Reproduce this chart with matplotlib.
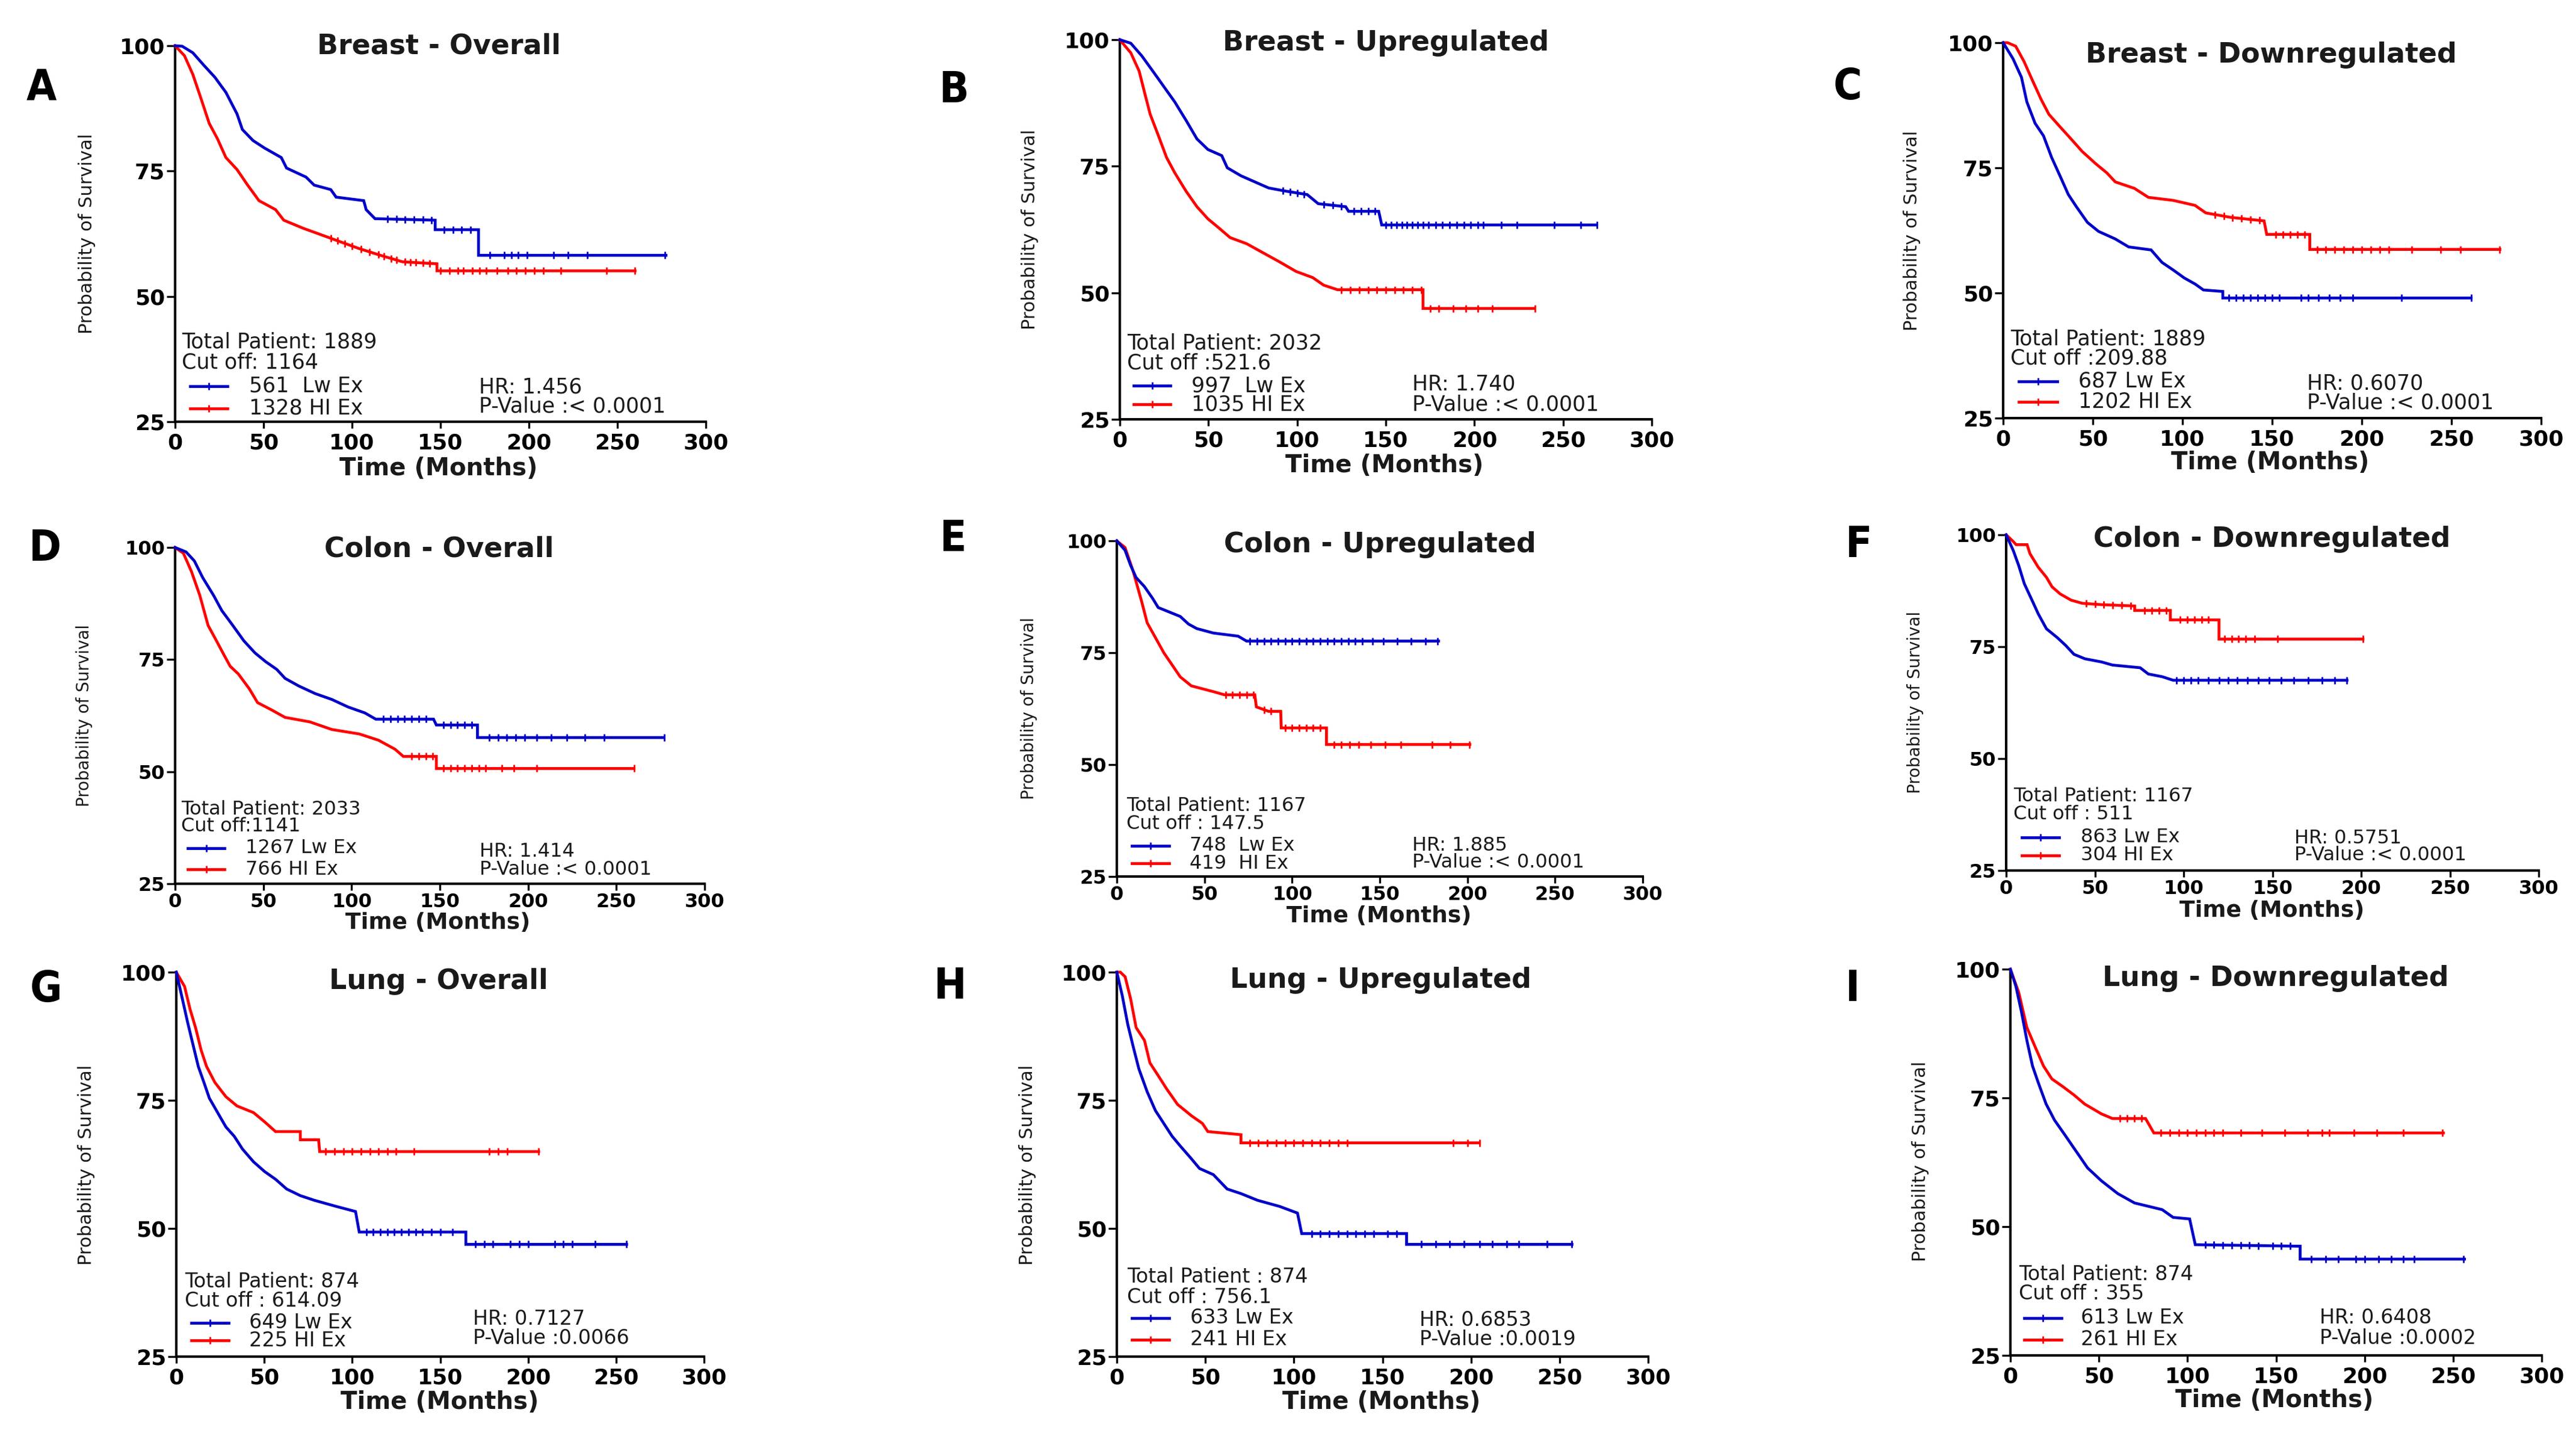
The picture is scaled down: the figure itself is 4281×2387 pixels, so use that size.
import numpy as np
import matplotlib
matplotlib.use("Agg")
import matplotlib.pyplot as plt

plt.rcParams['font.family'] = ['DejaVu Sans']

W, H = 4281, 2387
BLUE = "#0000C8"
RED = "#FF0000"
TXT = "#1a1a1a"

# ---------------- data ----------------
x_ticks = [0, 50, 100, 150, 200, 250, 300]
y_ticks = [25, 50, 75, 100]

# A  Breast - Overall
a_low_t = [0, 4, 10, 16, 22.5, 28.7, 35, 38, 44, 50.5, 60, 63, 74, 78.6, 88, 91, 106.6, 108, 113, 147, 147, 171.5, 171.5, 277.5]
a_low_s = [100, 99.9, 98.6, 96.2, 93.7, 90.7, 86.4, 83.3, 81.1, 79.6, 77.7, 75.6, 73.8, 72.2, 71.3, 69.8, 69.1, 67.3, 65.5, 65.2, 63.3, 63.3, 58.2, 58.2]
a_low_c = [120, 125, 130, 135, 140, 145, 152, 157, 162, 167, 178, 186, 190, 194, 199, 214, 222, 233, 277]
a_high_t = [0, 5.3, 10, 14.7, 19.3, 24, 28.7, 35, 41, 47.4, 56.8, 61.4, 72.3, 81.7, 91, 103.5, 116, 128.5, 148, 148, 260]
a_high_s = [100, 98, 94.3, 89.4, 84.5, 81.4, 77.7, 75.3, 72.2, 69.1, 67.3, 65.2, 63.6, 62.4, 61.2, 59.6, 58.2, 56.9, 56.5, 55.1, 55.1]
a_high_c = [88, 92, 96, 100, 105, 110, 115, 118, 122, 125, 130, 133, 136, 140, 144, 150, 155, 160, 163, 168, 172, 176, 182, 188, 193, 198, 203, 208, 218, 244, 260]
a_info = ["Total Patient: 1889", "Cut off: 1164", "561  Lw Ex", "1328 HI Ex", "HR: 1.456", "P-Value :< 0.0001"]

# B  Breast - Upregulated
b_low_t = [0, 6.2, 12.4, 18.6, 24.9, 31, 37.3, 43.5, 49.7, 57.5, 60.6, 68.4, 76.2, 84, 93.3, 105.7, 111.9, 127.4, 129, 146, 147.7, 269]
b_low_s = [100, 99.3, 96.8, 93.8, 90.7, 87.7, 84.1, 80.4, 78.3, 77.1, 74.7, 73.1, 71.9, 70.7, 70.1, 69.4, 67.6, 67.0, 66.1, 66.1, 63.4, 63.4]
b_low_c = [92, 96, 100, 104, 115, 120, 125, 132, 136, 140, 144, 150, 153, 156, 159, 162, 165, 168, 171, 174, 178, 182, 186, 190, 194, 198, 202, 205, 215, 224, 245, 260, 269]
b_high_t = [0, 6.2, 10.9, 14, 17.1, 21.8, 26.4, 31, 37.3, 43.5, 49.7, 55.9, 62.2, 71.5, 80.8, 90.1, 99.5, 108.8, 115, 122.8, 171, 171, 233.8]
b_high_s = [100, 97.4, 93.8, 89.5, 85.3, 81, 76.7, 73.7, 70.1, 67, 64.6, 62.8, 60.9, 59.7, 57.9, 56.1, 54.2, 53, 51.5, 50.6, 50.6, 46.9, 46.9]
b_high_c = [125, 130, 135, 140, 145, 150, 155, 160, 165, 170, 175, 180, 188, 195, 202, 210, 234]
b_info = ["Total Patient: 2032", "Cut off :521.6", "997  Lw Ex", "1035 HI Ex", "HR: 1.740", "P-Value :< 0.0001"]

# C  Breast - Downregulated
c_low_t = [0, 5.5, 10.2, 13.2, 17.8, 22.5, 27, 31.7, 36.3, 40.9, 47, 53.2, 62.5, 70, 82.5, 88.6, 94.8, 101, 107, 111.7, 122.5, 122.5, 261]
c_low_s = [100, 96.8, 93.1, 88.2, 83.9, 81.4, 77.1, 73.4, 69.7, 67.2, 64.1, 62.3, 60.8, 59.2, 58.6, 56.1, 54.6, 53, 51.8, 50.6, 50.3, 49, 49]
c_low_c = [126, 130, 134, 138, 142, 146, 150, 154, 166, 170, 176, 182, 188, 195, 222, 261]
c_high_t = [0, 2.5, 7, 11.7, 16.3, 21, 25.5, 31.7, 37.8, 44, 51.7, 57.8, 62.5, 73.2, 81, 94.8, 107, 113, 127, 145.5, 147, 171, 171, 277]
c_high_s = [100, 100, 99.3, 96.2, 92.5, 88.8, 85.7, 83.2, 80.8, 78.3, 75.8, 74, 72.2, 70.9, 69.1, 68.5, 67.5, 66, 65.1, 64.4, 61.7, 61.7, 58.7, 58.7]
c_high_c = [118, 123, 128, 133, 138, 143, 152, 156, 160, 164, 168, 175, 180, 185, 190, 195, 200, 205, 210, 215, 228, 244, 255, 277]
c_info = ["Total Patient: 1889", "Cut off :209.88", "687 Lw Ex", "1202 HI Ex", "HR: 0.6070", "P-Value :< 0.0001"]

# D  Colon - Overall
d_low_t = [0, 6.2, 10.9, 15.6, 21.8, 26.5, 32.7, 38.9, 45.2, 51.4, 57.6, 62.3, 70.1, 79.4, 88.8, 98.1, 107.5, 113.7, 146.4, 148, 171.3, 171.3, 277]
d_low_s = [100, 99, 97, 93.3, 89.3, 85.9, 82.6, 79.2, 76.5, 74.5, 72.8, 70.8, 69.1, 67.4, 66.1, 64.4, 63.1, 61.7, 61.7, 60.4, 60.4, 57.6, 57.6]
d_low_c = [118, 122, 126, 130, 134, 138, 142, 152, 156, 160, 164, 168, 178, 183, 188, 193, 198, 205, 213, 222, 232, 243, 277]
d_high_t = [0, 4.7, 9.3, 14, 18.7, 23.4, 28, 31.2, 35.8, 42, 46.7, 54.5, 62.3, 76.3, 88.8, 104.4, 115.3, 124.6, 129.3, 148, 148, 260]
d_high_s = [100, 98.7, 94.6, 89.3, 82.6, 79.2, 75.8, 73.5, 71.8, 68.5, 65.4, 63.8, 62.1, 61.1, 59.4, 58.4, 57, 55, 53.4, 53.4, 50.7, 50.7]
d_high_c = [134, 138, 142, 146, 152, 156, 160, 164, 168, 172, 176, 185, 192, 205, 260]
d_info = ["Total Patient: 2033", "Cut off:1141", "1267 Lw Ex", "766 HI Ex", "HR: 1.414", "P-Value :< 0.0001"]

# E  Colon - Upregulated
e_low_t = [0, 4.7, 7.9, 11, 15.7, 20.5, 23.6, 29.9, 36.2, 40.9, 45.6, 55.1, 69.2, 74, 183.5]
e_low_s = [100, 97.9, 94.5, 91.8, 89.8, 87.1, 85.1, 84.1, 83.1, 81.4, 80.4, 79.4, 78.7, 77.6, 77.6]
e_low_c = [76, 80, 84, 88, 92, 96, 100, 104, 108, 112, 116, 120, 124, 128, 132, 136, 140, 146, 152, 160, 168, 176, 183]
e_high_t = [0, 4.7, 9.4, 14.2, 17.3, 22, 26.8, 31.5, 36.2, 42.5, 55.1, 61.4, 78.7, 79.6, 86.6, 93.5, 93.8, 119.6, 119.6, 201.4]
e_high_s = [100, 98.5, 93.1, 86.4, 81.7, 78.4, 75, 72.3, 69.6, 67.6, 66.3, 65.6, 65.6, 62.9, 61.9, 61.9, 58.2, 58.2, 54.5, 54.5]
e_high_c = [62, 66, 70, 74, 78, 84, 88, 96, 100, 104, 108, 112, 116, 124, 128, 133, 138, 145, 153, 162, 180, 190, 201]
e_info = ["Total Patient: 1167", "Cut off : 147.5", "748  Lw Ex", "419  HI Ex", "HR: 1.885", "P-Value :< 0.0001"]

# F  Colon - Downregulated
f_low_t = [0, 4, 7.1, 10.2, 14.9, 18, 22.7, 28.9, 33.5, 38.2, 44.4, 53.7, 59.9, 75.5, 80.1, 87.9, 94.1, 192]
f_low_s = [100, 96.5, 93.1, 89.1, 85.1, 82.4, 79, 77, 75.3, 73.3, 72.3, 71.6, 70.9, 70.3, 68.9, 68.3, 67.5, 67.5]
f_low_c = [96, 100, 104, 108, 114, 120, 125, 130, 136, 142, 148, 155, 162, 170, 178, 185, 192]
f_high_t = [0, 4, 5.6, 11.8, 13.4, 18, 22.7, 25.8, 30.4, 36.6, 42.9, 53.7, 72.4, 72.4, 92.5, 92.5, 119.9, 119.9, 201]
f_high_s = [100, 98.5, 97.8, 97.8, 95.8, 92.8, 90.5, 88.4, 86.8, 85.4, 84.7, 84.4, 84.1, 83.1, 83.1, 81, 81, 76.7, 76.7]
f_high_c = [45, 50, 55, 60, 65, 70, 78, 82, 86, 90, 98, 102, 106, 110, 114, 123, 127, 131, 135, 140, 153, 201]
f_info = ["Total Patient: 1167", "Cut off : 511", "863 Lw Ex", "304 HI Ex", "HR: 0.5751", "P-Value :< 0.0001"]

# G  Lung - Overall
g_low_t = [0, 3.1, 6.3, 9.4, 12.5, 15.7, 18.8, 23.5, 28.2, 32.9, 37.6, 43.9, 50.2, 56.4, 62.7, 70.5, 78.4, 90.9, 101.9, 104, 164.6, 164.6, 256]
g_low_s = [100, 95.3, 90.4, 86, 81.6, 78.5, 75.4, 72.6, 69.8, 68, 65.5, 63, 61.1, 59.6, 57.7, 56.4, 55.5, 54.3, 53.3, 49.3, 49.3, 46.9, 46.9]
g_low_c = [108, 112, 116, 120, 124, 128, 132, 136, 140, 145, 150, 157, 170, 175, 180, 190, 195, 200, 215, 220, 225, 238, 256]
g_high_t = [0, 4.7, 7.8, 11, 14.1, 17.2, 21.9, 28.2, 34.5, 43.9, 50.2, 56.4, 70.5, 70.5, 80.9, 81.5, 206]
g_high_s = [100, 97.2, 92.8, 89.1, 84.8, 81.6, 78.5, 75.7, 73.9, 72.6, 70.8, 68.9, 68.9, 67.3, 67.3, 65, 65]
g_high_c = [85, 90, 95, 100, 105, 110, 115, 120, 125, 135, 178, 183, 188, 206]
g_info = ["Total Patient: 874", "Cut off : 614.09", "649 Lw Ex", "225 HI Ex", "HR: 0.7127", "P-Value :0.0066"]

# H  Lung - Upregulated
h_low_t = [0, 3.1, 6.2, 9.3, 12.5, 17.1, 21.8, 26.5, 31.2, 35.8, 42.1, 46.7, 54.5, 62.3, 70.1, 79.4, 91.9, 102, 104.4, 163.6, 163.6, 257]
h_low_s = [100, 95.4, 89.8, 85.4, 81.1, 76.7, 73, 70.5, 68, 66.1, 63.6, 61.7, 60.5, 57.7, 56.8, 55.5, 54.3, 53, 49, 49, 46.9, 46.9]
h_low_c = [110, 115, 120, 125, 130, 135, 140, 145, 153, 158, 172, 180, 188, 196, 205, 212, 220, 227, 243, 257]
h_high_t = [0, 2, 4.7, 7.8, 10.9, 15.6, 18.7, 23.4, 28, 34.3, 42.1, 48.3, 51.4, 70.1, 70.1, 204.7]
h_high_s = [100, 100, 99.1, 94.8, 89.2, 86.7, 82.3, 79.8, 77.3, 74.2, 72, 70.5, 68.9, 68.3, 66.7, 66.7]
h_high_c = [75, 80, 85, 90, 95, 100, 105, 110, 115, 120, 125, 130, 190, 198, 205]
h_info = ["Total Patient : 874", "Cut off : 756.1", "633 Lw Ex", "241 HI Ex", "HR: 0.6853", "P-Value :0.0019"]

# I  Lung - Downregulated
i_low_t = [0, 3.1, 6.2, 9.3, 12.5, 15.6, 20.2, 24.9, 31.2, 37.4, 43.6, 51.4, 60.7, 70.1, 85.7, 91.9, 101.2, 104.4, 163.6, 163.6, 256.4]
i_low_s = [100, 96.7, 91.8, 86.2, 81.2, 78.1, 73.8, 70.7, 67.6, 64.5, 61.4, 58.9, 56.4, 54.6, 53.3, 51.8, 51.5, 46.5, 46.2, 43.7, 43.7]
i_low_c = [110, 115, 120, 125, 130, 135, 140, 148, 153, 158, 170, 178, 185, 195, 200, 208, 215, 222, 228, 256]
i_high_t = [0, 4.7, 9.3, 14, 18.7, 23.4, 29.6, 35.8, 42, 51.4, 57.6, 76.3, 81, 244.5]
i_high_s = [100, 95.5, 88.7, 84.9, 81.2, 78.7, 77.2, 75.6, 73.8, 71.9, 71, 71, 68.2, 68.2]
i_high_c = [62, 66, 70, 74, 85, 90, 95, 100, 105, 110, 115, 120, 130, 142, 155, 168, 176, 180, 194, 207, 222, 244]
i_info = ["Total Patient: 874", "Cut off : 355", "613 Lw Ex", "261 HI Ex", "HR: 0.6408", "P-Value :0.0002"]

letters = ["A", "B", "C", "D", "E", "F", "G", "H", "I"]
titles = ["Breast - Overall", "Breast - Upregulated", "Breast - Downregulated",
          "Colon - Overall", "Colon - Upregulated", "Colon - Downregulated",
          "Lung - Overall", "Lung - Upregulated", "Lung - Downregulated"]

series = [
    (a_low_t, a_low_s, a_low_c, a_high_t, a_high_s, a_high_c, a_info),
    (b_low_t, b_low_s, b_low_c, b_high_t, b_high_s, b_high_c, b_info),
    (c_low_t, c_low_s, c_low_c, c_high_t, c_high_s, c_high_c, c_info),
    (d_low_t, d_low_s, d_low_c, d_high_t, d_high_s, d_high_c, d_info),
    (e_low_t, e_low_s, e_low_c, e_high_t, e_high_s, e_high_c, e_info),
    (f_low_t, f_low_s, f_low_c, f_high_t, f_high_s, f_high_c, f_info),
    (g_low_t, g_low_s, g_low_c, g_high_t, g_high_s, g_high_c, g_info),
    (h_low_t, h_low_s, h_low_c, h_high_t, h_high_s, h_high_c, h_info),
    (i_low_t, i_low_s, i_low_c, i_high_t, i_high_s, i_high_c, i_info),
]

# ---------------- layout (pixel positions in the 4281x2387 canvas) ----------------
layout = [
    dict(box=(291, 1173, 76, 701), letter=(69, 147), title=(730, 85), xlab=(729, 779), ylab=(144, 388),
         txt=(302, 569, 603, 316, 378, 642, 679, 414, 796, 644, 676)),
    dict(box=(1861, 2745, 66, 697), letter=(1586, 151), title=(2303, 80), xlab=(2301, 774), ylab=(1712, 381),
         txt=(1873, 570, 603, 1884, 1945, 641, 672, 1980, 2347, 638, 672)),
    dict(box=(3329, 4223, 71, 695), letter=(3071, 145), title=(3774, 100), xlab=(3773, 769), ylab=(3178, 383),
         txt=(3341, 564, 596, 3355, 3419, 634, 668, 3454, 3834, 637, 669)),
    dict(box=(291, 1171, 910, 1469), letter=(75, 912), title=(730, 921), xlab=(728, 1534), ylab=(140, 1189),
         txt=(301, 1345, 1374, 312, 373, 1410, 1445, 408, 797, 1416, 1445)),
    dict(box=(1856, 2730, 899, 1457), letter=(1584, 896), title=(2293, 914), xlab=(2292, 1523), ylab=(1710, 1177),
         txt=(1872, 1339, 1369, 1881, 1943, 1406, 1435, 1977, 2347, 1405, 1434)),
    dict(box=(3334, 4219, 889, 1447), letter=(3089, 907), title=(3776, 905), xlab=(3776, 1514), ylab=(3183, 1167),
         txt=(3346, 1324, 1354, 3360, 3422, 1392, 1422, 3458, 3813, 1394, 1422)),
    dict(box=(293, 1170, 1616, 2255), letter=(76, 1646), title=(729, 1640), xlab=(731, 2331), ylab=(144, 1936),
         txt=(307, 2130, 2163, 318, 380, 2199, 2228, 414, 786, 2192, 2224)),
    dict(box=(1856, 2739, 1616, 2255), letter=(1579, 1641), title=(2295, 1638), xlab=(2296, 2331), ylab=(1707, 1936),
         txt=(1873, 2123, 2157, 1881, 1943, 2191, 2227, 1978, 2359, 2194, 2227)),
    dict(box=(3341, 4224, 1611, 2253), letter=(3079, 1644), title=(3782, 1635), xlab=(3780, 2328), ylab=(3192, 1930),
         txt=(3355, 2118, 2150, 3364, 3426, 2191, 2227, 3458, 3855, 2191, 2225)),
]

fig = plt.figure(figsize=(W / 100, H / 100), dpi=100)
fig.patch.set_facecolor("white")

LW = 3.4


def draw_curve(ax, t, s, cens, color):
    ax.plot(t, s, color=color, lw=LW, clip_on=False, zorder=3, solid_joinstyle="miter")
    cy = np.interp(cens, t, s)
    ax.plot(cens, cy, linestyle="none", marker="|", ms=9, mew=2.0, color=color, clip_on=False, zorder=3)


for k, (lay, ser) in enumerate(zip(layout, series)):
    x0, x1, yt, yb = lay["box"]
    ax = fig.add_axes([x0 / W, 1 - yb / H, (x1 - x0) / W, (yb - yt) / H])
    lt, ls, lc, ht, hs, hc, info = ser
    row = k // 3

    def ax_xy(px, py):
        return (px - x0) / (x1 - x0), (yb - py) / (yb - yt)

    draw_curve(ax, ht, hs, hc, RED)
    draw_curve(ax, lt, ls, lc, BLUE)

    ax.set_xlim(0, 300)
    ax.set_ylim(25, 100)
    for sp in ["top", "right"]:
        ax.spines[sp].set_visible(False)
    for sp in ["left", "bottom"]:
        ax.spines[sp].set_linewidth(3.0)
        ax.spines[sp].set_color("black")
    tsize = 23 if row == 1 else 26
    ax.set_xticks(x_ticks, labels=[str(v) for v in x_ticks], fontsize=tsize, fontweight="bold")
    ax.set_yticks(y_ticks, labels=[str(v) for v in y_ticks], fontsize=tsize, fontweight="bold")
    ax.tick_params(axis="x", direction="out", length=8, width=2.4, pad=(3 if row == 1 else 5), colors="black")
    ax.tick_params(axis="y", direction="out", length=10, width=2.4, pad=2, colors="black")

    # title
    tx, ty = ax_xy(*lay["title"])
    ax.set_title(titles[k], x=tx, y=ty, ha="center", va="center", fontsize=33, fontweight="bold", color=TXT)

    # axis labels
    ax.set_xlabel("Time (Months)", fontsize=(27 if row == 1 else 29), fontweight="bold", color=TXT)
    lx, ly = ax_xy(*lay["xlab"])
    ax.xaxis.set_label_coords(lx, ly)
    ax.xaxis.label.set_va("center")
    ax.set_ylabel("Probability of Survival", fontsize=(20 if row == 1 else 22), color=TXT)
    yx, yy = ax_xy(*lay["ylab"])
    ax.yaxis.set_label_coords(yx, yy)
    ax.yaxis.label.set_va("center")
    ax.yaxis.label.set_ha("center")
    ax.yaxis.label.set_rotation_mode("anchor")

    # annotations
    txt_x, tot_y, cut_y, lxa, lxb, ly1, ly2, lab_x, hr_x, hr_y, p_y = lay["txt"]
    fs = 23 if row == 1 else (24 if row == 2 else 25)
    for (px, py), s in [((txt_x, tot_y), info[0]), ((txt_x, cut_y), info[1]),
                        ((lab_x, ly1), info[2]), ((lab_x, ly2), info[3]),
                        ((hr_x, hr_y), info[4]), ((hr_x, p_y), info[5])]:
        axx, axy = ax_xy(px, py)
        ax.text(axx, axy, s, transform=ax.transAxes, ha="left", va="center", fontsize=fs, color=TXT, clip_on=False)
    for yy_, col in [(ly1, BLUE), (ly2, RED)]:
        xa, ya = ax_xy(lxa, yy_)
        xb, _ = ax_xy(lxb, yy_)
        ax.plot([xa, xb], [ya, ya], transform=ax.transAxes, color=col, lw=LW, clip_on=False)
        ax.plot([(xa + xb) / 2], [ya], transform=ax.transAxes, marker="|", ms=9, mew=2.0,
                color=col, linestyle="none", clip_on=False)

    # panel letter
    cx, cy = lay["letter"]
    fig.text(cx / W, 1 - cy / H, letters[k], ha="center", va="center", fontsize=52,
             fontweight="bold", fontstretch="condensed", color="black")

fig.savefig("out.png", dpi=100, facecolor="white")
